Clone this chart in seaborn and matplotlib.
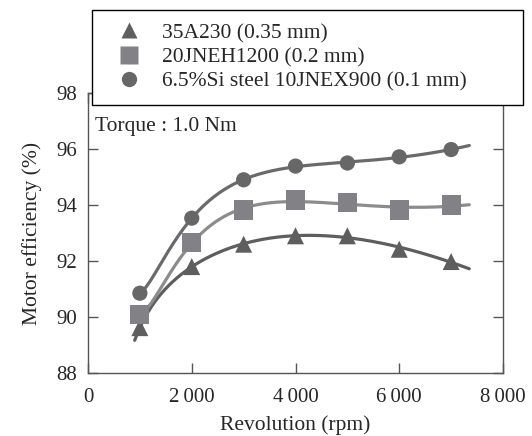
import numpy as np
import pandas as pd
import seaborn as sns
import matplotlib.pyplot as plt
from matplotlib.lines import Line2D

rpm = [1000, 2000, 3000, 4000, 5000, 6000, 7000]
eff_35a230 = [89.62, 91.8, 92.6, 92.9, 92.9, 92.42, 91.98]
eff_20jneh = [90.1, 92.65, 93.82, 94.18, 94.08, 93.82, 94.0]
eff_10jnex = [90.85, 93.53, 94.9, 95.39, 95.5, 95.72, 95.98]

labels = ['35A230 (0.35 mm)', '20JNEH1200 (0.2 mm)', '6.5%Si steel 10JNEX900 (0.1 mm)']
markers = ['^', 's', 'o']
msizes = [150, 190, 120]
colors = ['#5e5e5e', '#828286', '#676767']
line_colors = ['#5e5e5e', '#8c8c8c', '#6a6a6a']

sns.set_style('ticks')
plt.rcParams['font.family'] = ['Liberation Serif', 'DejaVu Serif']

fig = plt.figure(figsize=(5.32, 4.36), dpi=100)
ax = fig.add_axes([88 / 532, 63 / 436, 415 / 532, 280 / 436])

x_fit = np.linspace(900, 7350, 200)
series = [eff_35a230, eff_20jneh, eff_10jnex]
for i in range(len(series)):
    # smooth trend line through the measured points
    coef = np.polyfit(np.log(rpm), series[i], 4)
    df_fit = pd.DataFrame({'x': x_fit, 'y': np.polyval(coef, np.log(x_fit))})
    sns.lineplot(data=df_fit, x='x', y='y', ax=ax, color=line_colors[i], lw=2.3)
    df = pd.DataFrame({'x': rpm, 'y': series[i]})
    sns.scatterplot(data=df, x='x', y='y', ax=ax, marker=markers[i], s=msizes[i],
                    color=colors[i], edgecolor='none', zorder=3)

ax.set_xlim(0, 8000)
ax.set_ylim(88, 98)
ax.set_xticks([0, 2000, 4000, 6000, 8000])
ax.set_xticklabels(['0', '2\u2009000', '4\u2009000', '6\u2009000', '8\u2009000'])
ax.set_yticks([88, 90, 92, 94, 96, 98])
ax.tick_params(direction='in', length=7, width=1, top=True, right=True,
               labelsize=15, color='#555555', pad=8)
ax.tick_params(axis='x', pad=11)
for s in ax.spines.values():
    s.set_color('#555555')
    s.set_linewidth(1)
ax.set_xlabel('Revolution (rpm)', fontsize=15.5, labelpad=6)
ax.set_ylabel('Motor efficiency (%)', fontsize=15.5, labelpad=10)

fig.text(95 / 532, 1 - 126 / 436, 'Torque : 1.0 Nm', fontsize=15.5, va='center', ha='left')

handles = [Line2D([], [], ls='none', marker=markers[i], color=colors[i],
                  markersize=[12, 13, 11][i], markeredgecolor='none') for i in range(3)]
leg = fig.legend(handles, labels, loc='upper left', mode='expand',
                 bbox_to_anchor=(92 / 532, 1 - 100 / 436, 431 / 532, 90 / 436),
                 fontsize=15.5, frameon=True, fancybox=False, borderpad=0.6,
                 labelspacing=0.2, handletextpad=0.4, borderaxespad=0,
                 handlelength=2.25)
leg.get_frame().set_edgecolor('black')
leg.get_frame().set_linewidth(1)
leg.get_frame().set_alpha(1)

fig.savefig('out.png', dpi=100)
